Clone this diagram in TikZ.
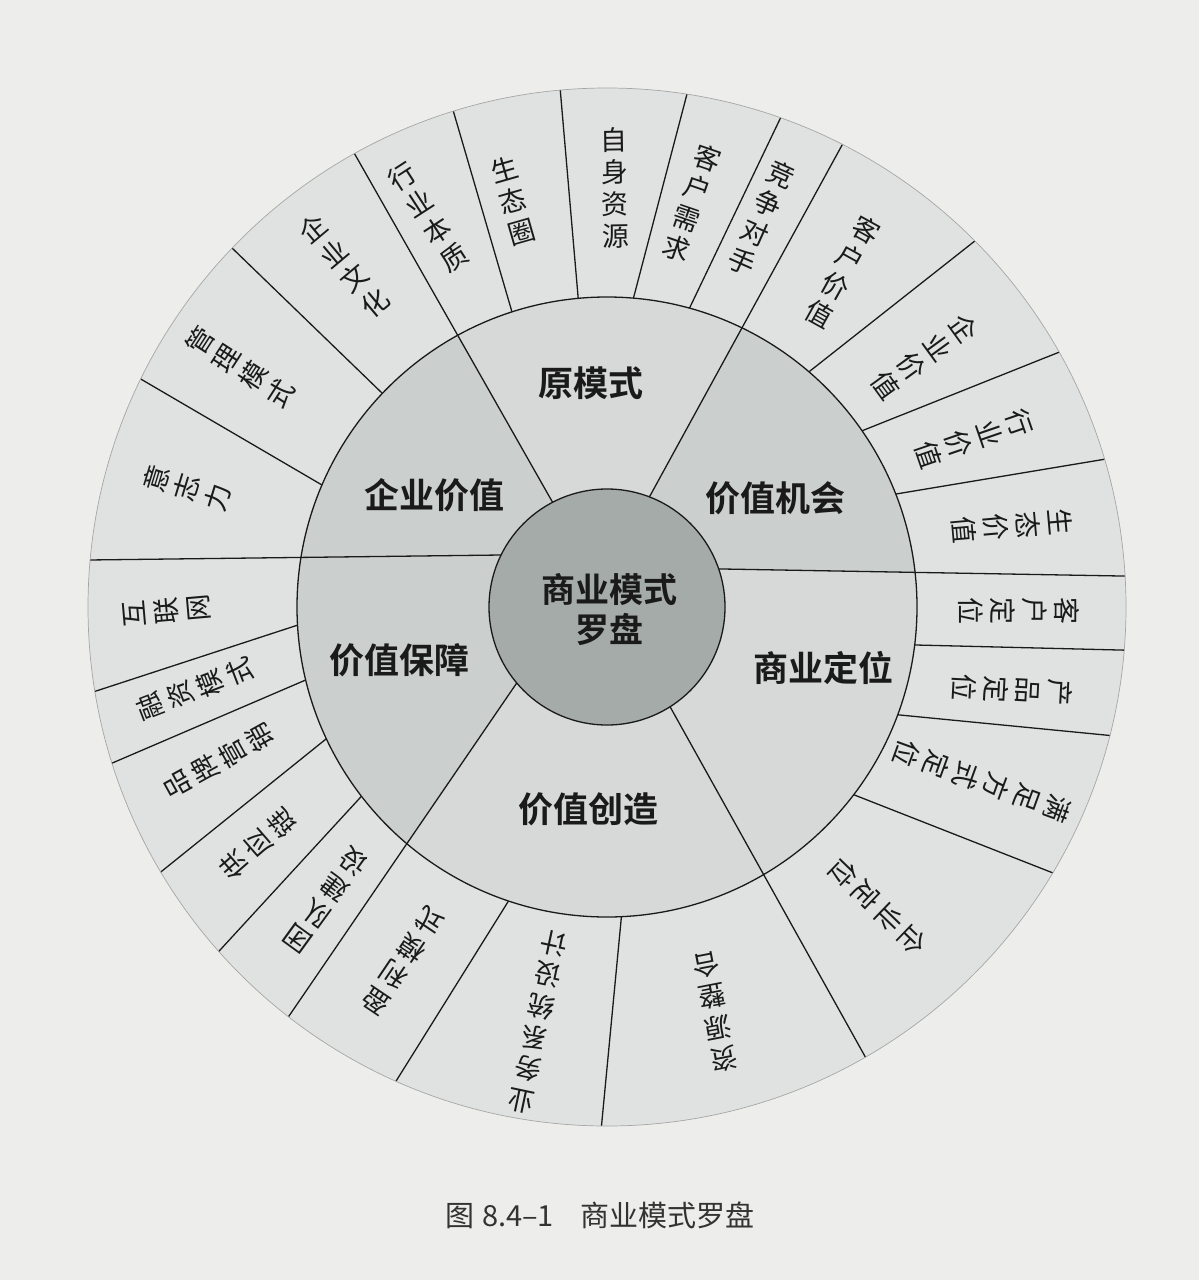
\documentclass[tikz,border=0pt]{standalone}
\usepackage{fontspec}
\newfontfamily\cjk{Noto Sans CJK SC}[BoldFont={Noto Sans CJK SC Bold}]
\usetikzlibrary{calc}
\definecolor{paper}{HTML}{EDEDEB}
\definecolor{ring}{HTML}{E0E2E1}
\definecolor{midA}{HTML}{D6D9D7}
\definecolor{midB}{HTML}{CBCFCD}
\definecolor{core}{HTML}{A4ABA8}
\definecolor{ink}{HTML}{1A1A1A}
\newcommand\vlab[5]{\node[olab,rotate=#4] (#1) at (#2,#3) {#5};}
\begin{document}
\begin{tikzpicture}[x=1pt,y=-1pt,
  divider/.style={draw=ink,line width=1.3pt},
  olab/.style={font=\cjk\fontsize{27}{32}\selectfont,text=ink,align=center,inner sep=0pt},
  mlab/.style={font=\cjk\bfseries\fontsize{35}{40}\selectfont,text=ink,inner sep=0pt},
  clab/.style={font=\cjk\bfseries\fontsize{34}{40}\selectfont,text=ink,align=center,inner sep=0pt}]
\useasboundingbox (0,0) rectangle (1199,1280);
\fill[paper] (0,0) rectangle (1199,1280);
\coordinate (C) at (607,607);
% outer ring
\fill[ring] (C) circle[radius=519pt];
\begin{scope}
  \clip (C) circle[radius=519pt];
  \foreach \ax/\ay/\bx/\by in {
    322/485/139/378, 383/394/231/247, 512/312/453/110, 578/296/560/87,
    634/296/687/94, 691/305/780/119, 810/371/971/244, 864/430/1057/353,
    896/494/1100/460, 916/645/1119/650, 900/715/1105/735, 857/796/1048/871,
    621/921/601/1131, 506/905/398/1078, 358/800/221/949, 326/739/162/871,
    308/679/110/764, 298/625/90/693}
    \draw[divider] ($(\ax,\ay)!-0.1!(\bx,\by)$) -- ($(\bx,\by)!-0.05!(\ax,\ay)$);
\end{scope}
% middle ring with sectors
\begin{scope}
  \clip (C) circle[radius=310pt];
  \fill[midA] (C) circle[radius=310pt];
  \fill[midB] (C) -- (501,555) -- (88,560) -- (353,151) -- (553,503) -- cycle;
  \fill[midB] (C) -- (651,494) -- (841,147) -- (1121,576) -- (723,569) -- cycle;
  \fill[midB] (C) -- (514,687) -- (289,1016) -- (88,560) -- (501,555) -- cycle;
\end{scope}
\begin{scope}
  \clip (C) circle[radius=519pt];
  \foreach \ax/\ay/\bx/\by in {
    553/503/353/151, 651/494/841/147, 723/569/1121/576,
    673/712/862/1051, 514/687/289/1016, 501/555/88/560}
    \draw[divider] ($(\ax,\ay)!-0.1!(\bx,\by)$) -- ($(\bx,\by)!-0.05!(\ax,\ay)$);
\end{scope}
\draw[ink,line width=1.3pt] (C) circle[radius=310pt];
% core
\fill[core] (C) circle[radius=118pt];
\draw[ink,line width=1.3pt] (C) circle[radius=118pt];
\draw[gray!70,line width=0.7pt] (C) circle[radius=519pt];
% outer labels
\vlab{t1}{615}{188}{1}{自\\身\\资\\源}
\vlab{t2}{692}{203}{-19}{客\\户\\需\\求}
\vlab{t3}{762}{218}{-24}{竞\\争\\对\\手}
\vlab{t4}{843}{272}{-29}{客\\户\\价\\值}
\vlab{t5}{925}{357}{-54}{企\\业\\价\\值}
\vlab{t6}{974}{439}{-71}{行\\业\\价\\值}
\vlab{t7}{1012}{526}{-85}{生\\态\\价\\值}
\vlab{t8}{1019}{611}{-90}{客\\户\\定\\位}
\vlab{t9}{1012}{690}{-93}{产\\品\\定\\位}
\vlab{t10}{982}{781}{-110}{满\\足\\方\\式\\定\\位}
\vlab{t11}{878}{907}{-134}{企\\业\\定\\位}
\vlab{t12}{715}{1012}{-169}{资\\源\\整\\合}
\vlab{t13}{538}{1022}{168}{业\\务\\系\\统\\设\\计}
\vlab{t14}{403}{961}{146}{盈\\利\\模\\式}
\vlab{t15}{326}{900}{144}{团\\队\\建\\设}
\vlab{t16}{258}{844}{131}{供\\应\\链}
\vlab{t17}{219}{761}{119}{品\\牌\\营\\销}
\vlab{t18}{195}{689}{111}{融\\资\\模\\式}
\vlab{t19}{167}{611}{95}{互\\联\\网}
\vlab{t20}{187}{488}{73}{意\\志\\力}
\vlab{t21}{240}{367}{57}{管\\理\\模\\式}
\vlab{t22}{344}{266}{40}{企\\业\\文\\化}
\vlab{t23}{428}{217}{33}{行\\业\\本\\质}
\vlab{t24}{513}{201}{16}{生\\态\\圈}
% middle labels
\node[mlab] (m1) at (591,383) {原模式};
\node[mlab] (m2) at (775,498) {价值机会};
\node[mlab] (m3) at (823,668) {商业定位};
\node[mlab] (m4) at (588,809) {价值创造};
\node[mlab] (m5) at (399,660) {价值保障};
\node[mlab] (m6) at (434,495) {企业价值};
\node[clab] (core) at (609,610) {商业模式\\罗盘};
% caption
\node[font=\cjk\fontsize{29}{32}\selectfont,text=black!80,inner sep=0pt] (cap) at (600,1215) {图\hspace{0.25em}8.4–1\hspace{0.9em}商业模式罗盘};
\end{tikzpicture}
\end{document}
